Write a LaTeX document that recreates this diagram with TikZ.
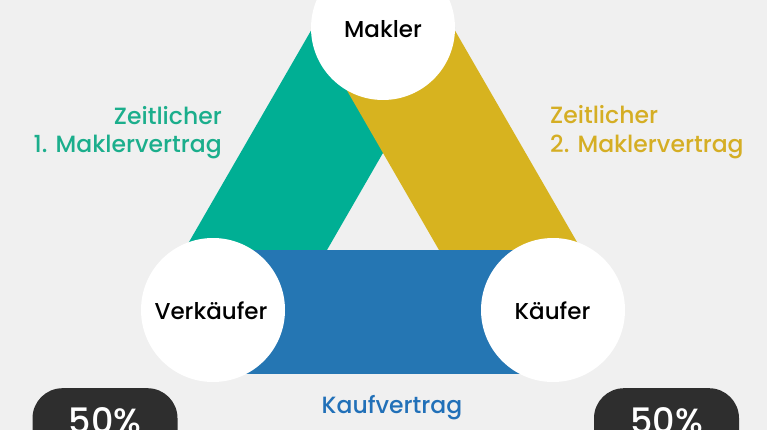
\documentclass[tikz,border=0pt]{standalone}
\usepackage{fontspec}
\setmainfont{Poppins}
\newfontfamily\medfont{Poppins Medium}
\definecolor{bgc}{HTML}{F0F0F0}
\definecolor{bandgreen}{HTML}{00AF94}
\definecolor{bandgold}{HTML}{D7B31F}
\definecolor{bandblue}{HTML}{2576B3}
\definecolor{txtgreen}{HTML}{1BAE8C}
\definecolor{txtgold}{HTML}{D5AE24}
\definecolor{txtblue}{HTML}{2170B8}
\definecolor{darkbox}{HTML}{2E2E2E}
\tikzset{
  party/.style={circle, fill=white, minimum size=144pt, inner sep=0pt},
  partytext/.style={anchor=base, text=black, font=\medfont\fontsize{23}{26}\selectfont},
  labelfont/.style={font=\medfont\fontsize{23.5}{28}\selectfont},
  pctbox/.style={fill=darkbox, rounded corners=30pt, minimum width=145pt, minimum height=100pt, anchor=north, inner sep=0pt},
  pcttext/.style={anchor=base, text=white, font=\medfont\fontsize{35}{40}\selectfont}
}
\begin{document}
\begin{tikzpicture}[x=1pt,y=-1pt]
\useasboundingbox (0,0) rectangle (767,430);
\clip (0,0) rectangle (767,430);
\fill[bgc] (0,0) rectangle (767,430);
% band corners
\coordinate (g1) at (312.5,28);
\coordinate (g2) at (455,28);
\coordinate (g3) at (327,250);
\coordinate (g4) at (184.4,250);
\coordinate (y1) at (310.9,28);
\coordinate (y2) at (453.5,28);
\coordinate (y3) at (581.6,250);
\coordinate (y4) at (439,250);
\fill[bandgreen] (g1) -- (g2) -- (g3) -- (g4) -- cycle;
\fill[bandgold] (y1) -- (y2) -- (y3) -- (y4) -- cycle;
\fill[bandblue] (213,250) rectangle (553,374);
% parties
\node[party] (makler) at (383,28) {};
\node[party] (verk) at (213,310) {};
\node[party] (kauf) at (553,310) {};
\node[partytext] (maklert) at (383,37.5) {Makler};
\node[partytext] (verkt) at (211,319) {Verkäufer};
\node[partytext] (kauft) at (552.5,319) {Käufer};
% labels
\node[labelfont, anchor=base east, inner sep=0pt, text=txtgreen] (l1a) at (222,125) {Zeitlicher};
\node[labelfont, anchor=base east, inner sep=0pt, text=txtgreen] (l1b) at (222,153) {1. Maklervertrag};
\node[labelfont, anchor=base west, inner sep=0pt, text=txtgold] (l2a) at (550,124) {Zeitlicher};
\node[labelfont, anchor=base west, inner sep=0pt, text=txtgold] (l2b) at (550,153) {2. Maklervertrag};
\node[labelfont, anchor=base, text=txtblue] (kv) at (392,413) {Kaufvertrag};
% percentage boxes
\node[pctbox] (p1) at (105,388) {};
\node[pctbox] (p2) at (666.5,388) {};
\node[pcttext] (p1t) at (105,433) {50\%};
\node[pcttext] (p2t) at (666.5,433) {50\%};
\end{tikzpicture}
\end{document}
